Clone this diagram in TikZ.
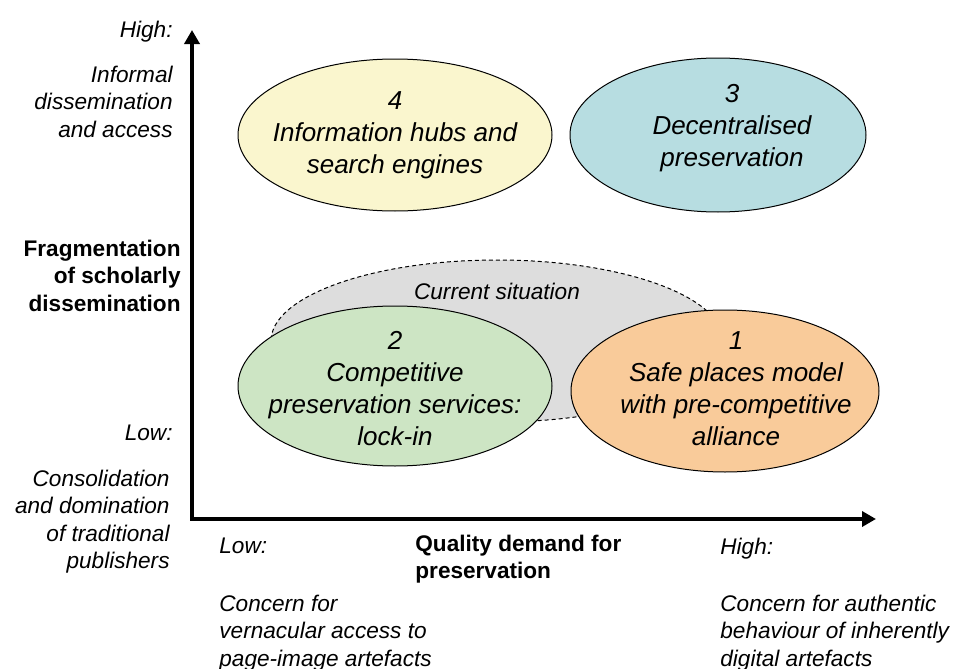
\documentclass[tikz,border=0pt]{standalone}
\usepackage{fontspec}
\setmainfont{Liberation Sans}
\usetikzlibrary{shapes.geometric,arrows.meta}

\definecolor{hubyellow}{RGB}{250,246,206}
\definecolor{decteal}{RGB}{183,221,225}
\definecolor{compgreen}{RGB}{205,229,196}
\definecolor{safeorange}{RGB}{249,203,154}
\definecolor{curgray}{RGB}{221,221,221}

\tikzset{
  zone/.style={ellipse, draw=black, line width=0.5pt, inner sep=0pt},
  zonetext/.style={align=center, inner sep=0pt, font=\fontsize{13}{16}\selectfont\itshape},
  axistext/.style={inner sep=0pt, font=\fontsize{11.3}{13.6}\selectfont\itshape},
  axistitle/.style={inner sep=0pt, font=\fontsize{11.3}{13.6}\selectfont\bfseries},
  axisline/.style={line width=2.25pt, line join=miter,
    {Triangle[length=7pt,width=7.5pt]}-{Triangle[length=7pt,width=7.5pt]}}
}

\begin{document}
\begin{tikzpicture}[x=0.5pt,y=-0.5pt]
   \useasboundingbox (0,0) rectangle (955,669);

   % top row
   \node[zone, fill=hubyellow, minimum width=157pt, minimum height=76pt, name=hubs] at (395,135) {};
   \node[zone, fill=decteal, minimum width=148pt, minimum height=77pt, name=decent] at (718,135) {};
   \node[zonetext, name=hubst] at (395,135) {4\\Information hubs and\\search engines};
   \node[zonetext, name=decentt] at (732,128) {3\\Decentralised\\preservation};

   % bottom row, over the current situation
   \node[zone, dashed, dash pattern=on 2pt off 1.5pt, fill=curgray, minimum width=226pt, minimum height=81pt, name=current] at (497,341) {};
   \node[axistext, name=currentt] at (497,291) {Current situation};
   \node[zone, fill=compgreen, minimum width=157pt, minimum height=80pt, name=comp] at (395,386) {};
   \node[zone, fill=safeorange, minimum width=154pt, minimum height=81pt, name=safe] at (725,391) {};
   \node[zonetext, name=compt] at (395,389) {2\\Competitive\\preservation services:\\lock-in};
   \node[zonetext, name=safet] at (736,389) {1\\Safe places model\\with pre-competitive\\alliance};

   % axes
   \coordinate (ytop) at (192,30);
   \coordinate (corner) at (192,519);
   \coordinate (xend) at (876,519);
   \draw[axisline] (ytop) -- (corner) -- (xend);

   % vertical axis labels
   \node[axistext, anchor=north east, name=yhigh] at (173,21) {High:};
   \node[axistext, align=right, anchor=north east, name=yhight] at (173,66) {Informal\\dissemination\\and access};
   \node[axistitle, align=right, anchor=north east, name=ytitle] at (181,240) {Fragmentation\\of scholarly\\dissemination};
   \node[axistext, anchor=north east, name=ylow] at (173,425) {Low:};
   \node[axistext, align=right, anchor=north east, name=ylowt] at (170,470) {Consolidation\\and domination\\of traditional\\publishers};

   % horizontal axis labels
   \node[axistext, anchor=north west, name=xlow] at (219,538) {Low:};
   \node[axistitle, align=left, anchor=north west, name=xtitle] at (415,535) {Quality demand for\\preservation};
   \node[axistext, align=left, anchor=north west, name=xlowt] at (219,595) {Concern for\\vernacular access to\\page-image artefacts};
   \node[axistext, anchor=north west, name=xhigh] at (720,538) {High:};
   \node[axistext, align=left, anchor=north west, name=xhight] at (720,595) {Concern for authentic\\behaviour of inherently\\digital artefacts};
\end{tikzpicture}
\end{document}
